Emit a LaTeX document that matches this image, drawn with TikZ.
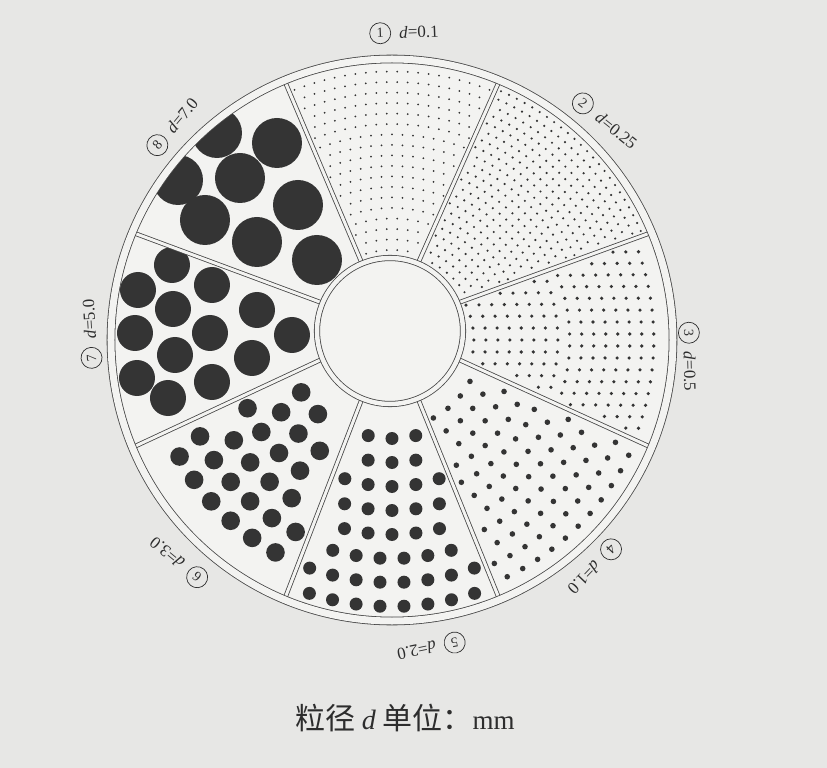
\documentclass[tikz,border=0pt]{standalone}
\usepackage{fontspec}
\setmainfont{Liberation Serif}
\newfontfamily\cjk{Noto Sans CJK SC}
\usetikzlibrary{calc}

\definecolor{bgc}{RGB}{231,231,229}
\definecolor{discc}{RGB}{243,243,241}
\definecolor{linec}{RGB}{70,70,70}
\definecolor{dotc}{RGB}{52,52,52}
\definecolor{textc}{RGB}{45,45,45}

% dots of one sector: centre angle, dot radius, spacing
\newcommand\sievedots[3]{%
  \pgfmathtruncatemacro\nring{(277-70)/#3}
  \foreach \j in {0,...,\nring} {
    \pgfmathsetmacro\rr{68+#2+\j*#3}
    \pgfmathsetmacro\st{#3/\rr*57.2958}
    \pgfmathtruncatemacro\nd{50/\st}
    \foreach \i in {0,...,\nd} {
      \pgfmathsetmacro\ang{#1-\nd*\st/2+\i*\st+mod(\j,2)*\st/2}
      \pgfmathsetmacro\px{\rr*cos(\ang)}
      \pgfmathsetmacro\py{\rr*sin(\ang)}
      \pgfmathsetmacro\ea{#1-22.5}
      \pgfmathsetmacro\eb{#1+22.5}
      \pgfmathsetmacro\da{(cos(\ea)+0.0096)*(\py-9-73*sin(\ea))-(sin(\ea)-0.0433)*(\px+2-73*cos(\ea))}
      \pgfmathsetmacro\db{(sin(\eb)-0.0433)*(\px+2-73*cos(\eb))-(cos(\eb)+0.0096)*(\py-9-73*sin(\eb))}
      \pgfmathtruncatemacro\ok{(\da>#2+3)*(\db>#2+3)*(veclen(\px+2,\py-9)>78+#2)*(\rr<275-#2)}
      \ifnum\ok=1 \fill[dotc] (\px,\py) circle[radius=#2]; \fi
    }
  }
}

\begin{document}
\begin{tikzpicture}[
    x=1pt, y=1pt,
    ring/.style={draw=linec, line width=0.8pt, double=discc, double distance=#1},
    numc/.style={circle, draw=textc, line width=0.7pt, minimum size=21pt, inner sep=0pt, text=textc, font=\fontsize{14}{14}\selectfont},
    lbl/.style={anchor=west, inner xsep=8pt, inner ysep=1pt, text=textc, font=\fontsize{17}{17}\selectfont}
]
    % Background and disc
    \fill[bgc] (-392,-428) rectangle (435,340);
    \coordinate (O) at (0,0);
    \coordinate (I) at (-2,9);
    \fill[discc] (O) circle[radius=284];

    % Sectors 1--6
    \sievedots{90}{1.0}{10.5}
    \sievedots{45}{1.2}{8.8}
    \sievedots{0}{1.8}{12}
    \sievedots{-45}{2.8}{17.5}
    \sievedots{-90}{6.5}{24}
    \sievedots{-135}{9.3}{27.5}

    % Sectors 7 and 8
    \begin{scope}
        \clip (O) circle[radius=277];
        \foreach \p in {(-220,75),(-180,55),(-254,50),(-219,31),(-135,30),(-257,7),(-182,7),
                        (-100,5),(-217,-15),(-140,-18),(-255,-38),(-180,-42),(-224,-58)}
            \fill[dotc] \p circle[radius=18];
        \foreach \p in {(-175,207),(-115,197),(-152,162),(-214,160),(-187,120),(-94,135),
                        (-135,98),(-75,80)}
            \fill[dotc] \p circle[radius=25];
    \end{scope}

    % Sector walls
    \foreach \a in {22.5,67.5,...,337.5}
        \draw[ring=3pt] ($(I)+(\a:73)$) -- ($(O)+(\a:281)$);

    % Hole and rim
    \fill[discc] (I) circle[radius=73];
    \draw[ring=4.5pt] (I) circle[radius=73];
    \draw[ring=7pt] (O) circle[radius=281];

    % Labels
    \foreach \n/\a/\r/\v in {1/92.2/307/0.1, 2/51.1/304/0.25, 3/1.4/297/0.5, 4/-43.7/303/1.0,
                             5/-78.3/309/2.0, 6/230.6/307/3.0, 7/183.4/301/5.0, 8/140.3/305/7.0} {
        \node[numc, rotate=\a-90] (n\n) at (\a:\r) {\n};
        \node[lbl, rotate=\a-90] (d\n) at (n\n.east) {\textit{d}=\v};
    }

    \node[text=textc] (cap) at (13,-378)
        {\fontsize{30}{30}\selectfont\cjk 粒径 {\rmfamily\itshape\fontsize{28}{28}\selectfont d} 单位：{\rmfamily\fontsize{27}{27}\selectfont mm}};
\end{tikzpicture}
\end{document}
